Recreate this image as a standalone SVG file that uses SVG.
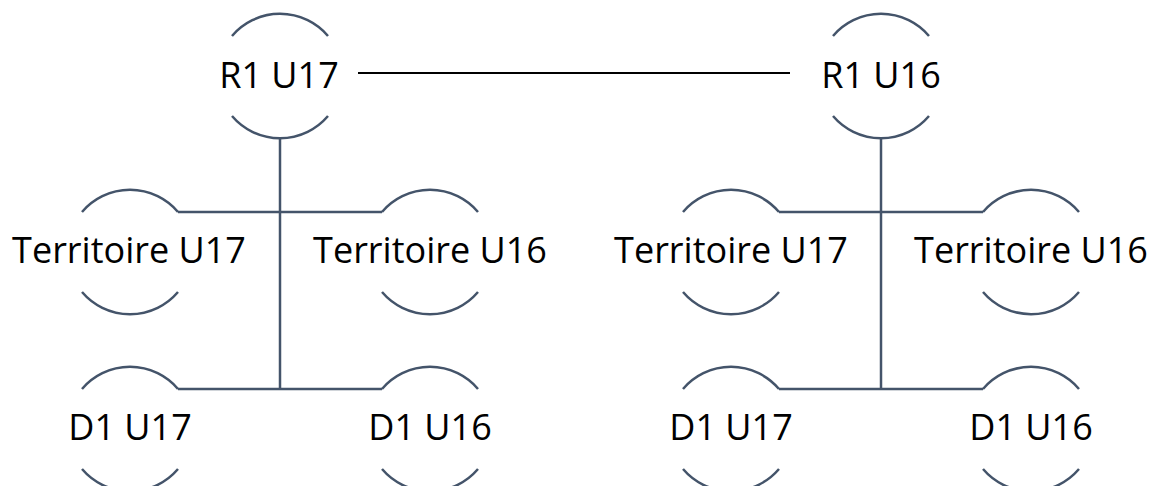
<svg xmlns="http://www.w3.org/2000/svg" width="1158" height="486" viewBox="0 0 1158 486">
<style>
.arc{fill:none;stroke:#44546A;stroke-width:2.5}
.conn{fill:none;stroke:#44546A;stroke-width:2.5}
.link{fill:none;stroke:#000000;stroke-width:2}
.lbl{font-family:"Open Sans","Liberation Sans",sans-serif;font-size:36px;fill:#000000;text-anchor:middle}
</style>
<rect width="1158" height="486" fill="#ffffff"/>
<defs>
<g id="ring">
<path class="arc" d="M -48 -40 A 63 63 0 0 1 48 -40"/>
<path class="arc" d="M -48 40 A 63 63 0 0 0 48 40"/>
</g>
</defs>
<g id="connectors">
<line class="link" x1="358" y1="73" x2="790" y2="73"/>
<line class="conn" x1="280" y1="139" x2="280" y2="389"/>
<line class="conn" x1="178" y1="212" x2="382" y2="212"/>
<line class="conn" x1="178" y1="389" x2="382" y2="389"/>
<line class="conn" x1="881" y1="139" x2="881" y2="389"/>
<line class="conn" x1="779" y1="212" x2="983" y2="212"/>
<line class="conn" x1="779" y1="389" x2="983" y2="389"/>
</g>
<g id="n-r1u17" transform="translate(280,76)"><use href="#ring"/><text class="lbl" x="-1" y="12">R1 U17</text></g>
<g id="n-r1u16" transform="translate(881,76)"><use href="#ring"/><text class="lbl" x="0" y="12">R1 U16</text></g>
<g id="n-l-t17" transform="translate(130,252)"><use href="#ring"/><text class="lbl" x="-1" y="11">Territoire U17</text></g>
<g id="n-l-t16" transform="translate(430,252)"><use href="#ring"/><text class="lbl" x="0" y="11">Territoire U16</text></g>
<g id="n-r-t17" transform="translate(731,252)"><use href="#ring"/><text class="lbl" x="0" y="11">Territoire U17</text></g>
<g id="n-r-t16" transform="translate(1031,252)"><use href="#ring"/><text class="lbl" x="0" y="11">Territoire U16</text></g>
<g id="n-l-d17" transform="translate(130,429)"><use href="#ring"/><text class="lbl" x="0" y="11">D1 U17</text></g>
<g id="n-l-d16" transform="translate(430,429)"><use href="#ring"/><text class="lbl" x="0" y="11">D1 U16</text></g>
<g id="n-r-d17" transform="translate(731,429)"><use href="#ring"/><text class="lbl" x="0" y="11">D1 U17</text></g>
<g id="n-r-d16" transform="translate(1031,429)"><use href="#ring"/><text class="lbl" x="0" y="11">D1 U16</text></g>
</svg>
